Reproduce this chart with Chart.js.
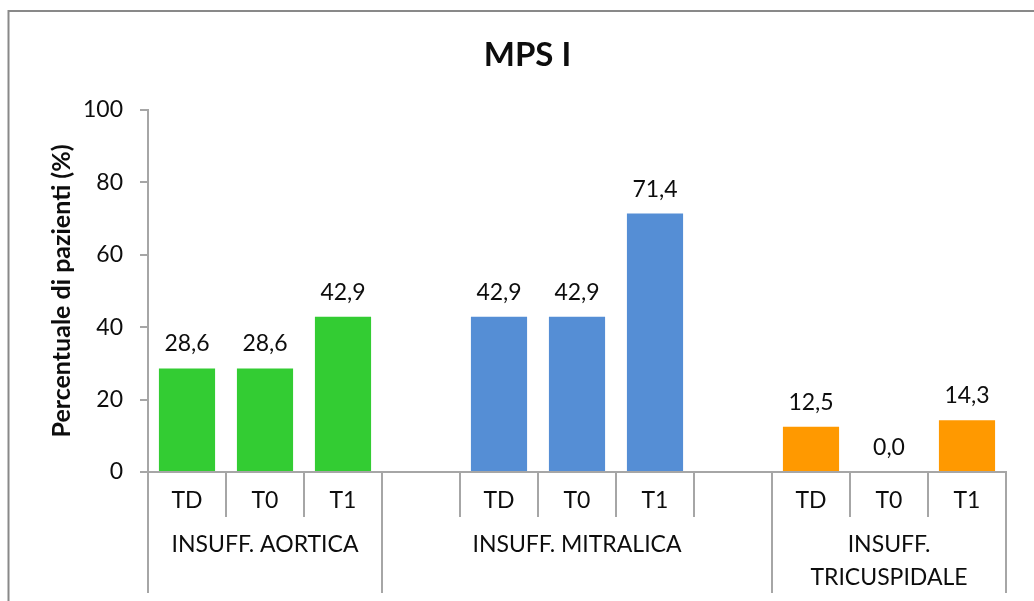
<!DOCTYPE html>
<html>
<head>
<meta charset="utf-8">
<title>MPS I</title>
<script src="https://cdn.jsdelivr.net/npm/chart.js@4/dist/chart.umd.min.js"></script>
<style>
  html, body { margin: 0; padding: 0; background: #ffffff; }
  #wrap { width: 1034px; height: 601px; position: relative; }
  canvas { display: block; }
</style>
</head>
<body>
<div id="wrap"><canvas id="chart" width="1034" height="601"></canvas></div>
<script>
// Inner category labels (empty entries separate the valve groups)
const categoryLabels = ['TD', 'T0', 'T1', '', 'TD', 'T0', 'T1', '', 'TD', 'T0', 'T1'];

// Outer group labels and the category index range each one covers
const groupLabels = [['INSUFF. AORTICA'], ['INSUFF. MITRALICA'], ['INSUFF.', 'TRICUSPIDALE']];
const groupRanges = [[0, 2], [3, 7], [8, 10]];

// Percentuale di pazienti (%) per time point
const aortica = [28.6, 28.6, 42.9];
const mitralica = [42.9, 42.9, 71.4];
const tricuspidale = [12.5, 0.0, 14.3];

// Y axis ticks
const yTicks = [0, 20, 40, 60, 80, 100];

const groupColors = ['#33CC33', '#558ED5', '#FF9900'];

const values = [...aortica, null, ...mitralica, null, ...tricuspidale];
const barColors = values.map((v, i) => {
  const g = groupRanges.findIndex(r => i >= r[0] && i <= r[1]);
  return groupColors[g];
});

const FONT = 'Lato, "Open Sans", sans-serif';
const TEXT = '#0d0d0d';
const AXIS = '#a6a6a6';
const LABEL_SIZE = 23;

// Outer chart frame
const framePlugin = {
  id: 'frame',
  beforeDraw(chart) {
    const ctx = chart.ctx;
    ctx.save();
    ctx.strokeStyle = '#898989';
    ctx.lineWidth = 2;
    ctx.strokeRect(8.5, 11, 1200, 800);
    ctx.restore();
  }
};

// Value labels above each bar, Italian decimal comma
const valueLabelPlugin = {
  id: 'valueLabels',
  afterDatasetsDraw(chart) {
    const ctx = chart.ctx;
    const meta = chart.getDatasetMeta(0);
    const data = chart.data.datasets[0].data;
    ctx.save();
    ctx.font = LABEL_SIZE + 'px ' + FONT;
    ctx.fillStyle = TEXT;
    ctx.textAlign = 'center';
    ctx.textBaseline = 'alphabetic';
    meta.data.forEach((bar, i) => {
      const v = data[i];
      if (v === null || v === undefined) return;
      ctx.fillText(v.toFixed(1).replace('.', ','), bar.x, bar.y - 17);
    });
    ctx.restore();
  }
};

// Two-level category axis: inner time points and outer valve groups
const multiLevelAxisPlugin = {
  id: 'multiLevelAxis',
  afterDraw(chart) {
    const ctx = chart.ctx;
    const xs = chart.scales.x;
    const top = xs.top;
    const boundaries = new Set(groupRanges.map(r => r[0]).concat([groupRanges[groupRanges.length - 1][1] + 1]));
    ctx.save();
    ctx.strokeStyle = AXIS;
    ctx.lineWidth = 2;
    for (let i = 0; i <= categoryLabels.length; i++) {
      const px = Math.round(xs.getPixelForValue(i - 0.5));
      const len = boundaries.has(i) ? 121 : 45;
      ctx.beginPath();
      ctx.moveTo(px, top);
      ctx.lineTo(px, top + len);
      ctx.stroke();
    }
    ctx.font = LABEL_SIZE + 'px ' + FONT;
    ctx.fillStyle = TEXT;
    ctx.textAlign = 'center';
    ctx.textBaseline = 'alphabetic';
    categoryLabels.forEach((lab, i) => {
      if (!lab) return;
      ctx.fillText(lab, xs.getPixelForTick(i), top + 36);
    });
    groupLabels.forEach((lines, g) => {
      const r = groupRanges[g];
      const cx = (xs.getPixelForValue(r[0] - 0.5) + xs.getPixelForValue(r[1] + 0.5)) / 2;
      lines.forEach((line, k) => {
        ctx.fillText(line, cx, top + 80 + k * 33);
      });
    });
    ctx.restore();
  }
};

function build() {
  new Chart(document.getElementById('chart'), {
    type: 'bar',
    data: {
      labels: categoryLabels,
      datasets: [{
        data: values,
        backgroundColor: barColors,
        borderWidth: 0,
        categoryPercentage: 1.0,
        barPercentage: 0.72
      }]
    },
    options: {
      responsive: false,
      animation: false,
      devicePixelRatio: 1,
      layout: { padding: { left: 21, right: 0, top: 0, bottom: 0 } },
      plugins: {
        legend: { display: false },
        tooltip: { enabled: false },
        title: {
          display: true,
          text: 'MPS I',
          color: TEXT,
          font: { family: FONT, size: 33, weight: 'bold', lineHeight: 1.2 },
          padding: { top: 35.2, bottom: 35.2 }
        }
      },
      scales: {
        x: {
          type: 'category',
          offset: true,
          grid: { display: false },
          border: { display: true, color: AXIS, width: 2 },
          ticks: { display: false },
          afterFit(s) { s.height = 129; }
        },
        y: {
          min: yTicks[0],
          max: yTicks[yTicks.length - 1],
          afterBuildTicks(s) { s.ticks = yTicks.map(v => ({ value: v })); },
          grid: { display: true, drawOnChartArea: false, drawTicks: true, tickLength: 8, color: AXIS, lineWidth: 2 },
          border: { display: true, color: AXIS, width: 2 },
          ticks: {
            color: TEXT,
            padding: 17,
            font: { family: FONT, size: LABEL_SIZE },
            callback: v => String(v)
          },
          title: {
            display: true,
            text: 'Percentuale di pazienti (%)',
            color: TEXT,
            font: { family: FONT, size: 25, weight: 'bold', lineHeight: 1.2 },
            padding: { top: 26, bottom: 0 }
          },
          afterFit(s) { s.width = 127; }
        },
        spacer: {
          type: 'linear',
          position: 'right',
          display: true,
          grid: { display: false },
          border: { display: false },
          ticks: { display: false },
          afterFit(s) { s.width = 28; }
        }
      }
    },
    plugins: [framePlugin, valueLabelPlugin, multiLevelAxisPlugin]
  });
}

if (document.fonts && document.fonts.load) {
  Promise.all([
    document.fonts.load('23px Lato'),
    document.fonts.load('bold 25px Lato')
  ]).then(build, build);
} else {
  build();
}
</script>
</body>
</html>
